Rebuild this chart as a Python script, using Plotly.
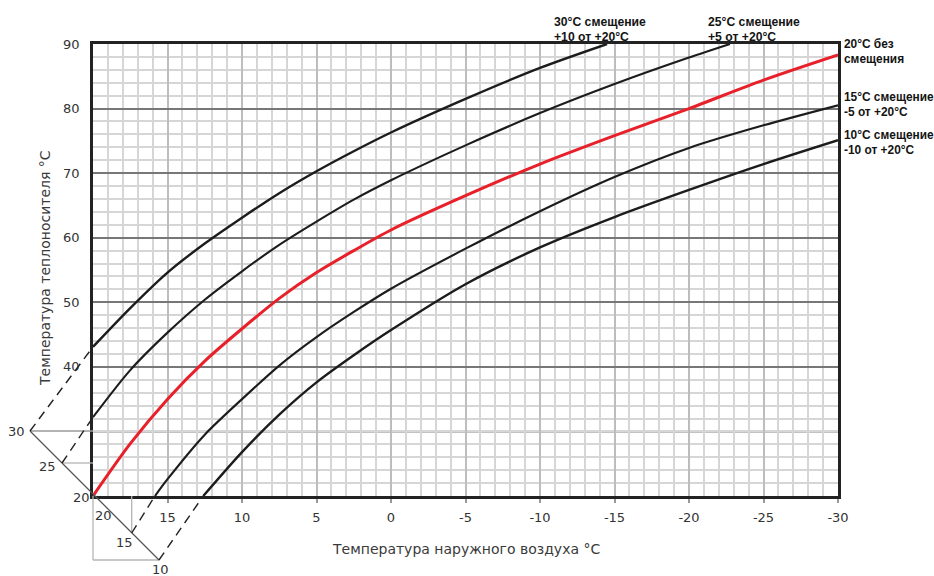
import plotly.graph_objects as go

# ---------------- data ----------------
outdoor_ticks = [15, 10, 5, 0, -5, -10, -15, -20, -25, -30]
supply_ticks = [40, 50, 60, 70, 80, 90]

x_30 = [20, 17.5, 15, 12.5, 10, 7.5, 5, 2.5, 0, -5, -10, -14.5]
y_30 = [43.1, 49.1, 54.6, 59.1, 63.1, 66.9, 70.3, 73.4, 76.3, 81.5, 86.3, 90.0]

x_25 = [20, 17.5, 15, 12.5, 10, 7.5, 5, 2.5, 0, -5, -10, -15, -20, -22.75]
y_25 = [32.2, 39.5, 45.3, 50.4, 54.8, 58.9, 62.5, 65.9, 68.9, 74.3, 79.3, 83.8, 87.9, 90.0]

x_20 = [20, 17.5, 15, 12.5, 10, 7.5, 5, 2.5, 0, -5, -10, -15, -20, -25, -30]
y_20 = [20.0, 28.1, 35.0, 40.9, 45.9, 50.6, 54.6, 58.0, 61.2, 66.5, 71.4, 75.8, 80.0, 84.4, 88.3]

x_15 = [15.84, 15, 12.5, 10, 7.5, 5, 2.5, 0, -5, -10, -15, -20, -25, -30]
y_15 = [20.0, 22.6, 29.5, 35.0, 40.2, 44.6, 48.5, 52.1, 58.3, 64.1, 69.4, 73.9, 77.4, 80.5]

x_10 = [12.6, 10, 7.5, 5, 2.5, 0, -5, -10, -15, -20, -25, -30]
y_10 = [20.0, 26.8, 32.6, 37.6, 41.8, 45.7, 52.8, 58.5, 63.2, 67.4, 71.4, 75.1]

room_labels = ["30", "25", "20", "15", "10"]

label_30 = ["30°C смещение", "+10 от +20°C"]
label_25 = ["25°C смещение", "+5 от +20°C"]
label_20 = ["20°C без", "смещения"]
label_15 = ["15°C смещение", "-5 от +20°C"]
label_10 = ["10°C смещение", "-10 от +20°C"]

# ---------------- layout geometry (page pixels) ----------------
W, H = 934, 576
PL, PR, PT, PB = 93, 838, 44, 496      # plot area in page pixels
XR = (20, -30)
YR = (20, 90)


def px2paper(px, py):
    return (px - PL) / (PR - PL), (PB - py) / (PB - PT)


def data2px(x, y):
    px = PL + (XR[0] - x) / (XR[0] - XR[1]) * (PR - PL)
    py = PB - (y - YR[0]) / (YR[1] - YR[0]) * (PB - PT)
    return px, py


BLACK = "#1c1c1c"
RED = "#e8202a"
TXT = "#333333"
FONT = "DejaVu Sans"
BFONT = "Liberation Sans"

fig = go.Figure()

for xs, ys, col, w in [(x_30, y_30, BLACK, 2.4), (x_25, y_25, BLACK, 2.1),
                       (x_15, y_15, BLACK, 2.1), (x_10, y_10, BLACK, 2.4),
                       (x_20, y_20, RED, 3.0)]:
    fig.add_trace(go.Scatter(x=xs, y=ys, mode="lines",
                             line=dict(color=col, width=w, shape="spline", smoothing=0.8),
                             showlegend=False, hoverinfo="x+y"))

shapes = []
# black major horizontal lines at 30, 50, 70
for yv in [30, 50, 70]:
    shapes.append(dict(type="line", xref="paper", yref="y", x0=0, x1=1, y0=yv, y1=yv,
                       line=dict(color="#111111", width=1.6), layer="between"))


def pline(p0, p1, color, width, dash=None):
    a = px2paper(*p0)
    b = px2paper(*p1)
    d = dict(type="line", xref="paper", yref="paper", x0=a[0], y0=a[1], x1=b[0], y1=b[1],
             line=dict(color=color, width=width), layer="above")
    if dash:
        d["line"]["dash"] = dash
    return d


# auxiliary oblique room-temperature axis
P30 = (30, 431)
P25 = (62, 463)
P20 = (PL, PB)
P15 = (131.7, 533)
P10 = (159, 560)
shapes.append(pline(P30, (PL, 431), "#9a9a9a", 1.3))
shapes.append(pline(P25, (PL, 463), "#b5b5b5", 1.3))
shapes.append(pline(P20, (PL, 560), "#b5b5b5", 1.3))
shapes.append(pline((PL, 560), P10, "#b5b5b5", 1.3))
shapes.append(pline((P15[0], PB), P15, "#b5b5b5", 1.3))
shapes.append(pline(P30, P10, "#555555", 1.3))

# dashed connectors from the oblique axis to the start of each curve
dash = "9px,6px"
shapes.append(pline(P30, data2px(x_30[0], y_30[0]), "#222222", 1.4, dash))
shapes.append(pline(P25, data2px(x_25[0], y_25[0]), "#222222", 1.4, dash))
shapes.append(pline(P15, data2px(x_15[0], y_15[0]), "#222222", 1.4, dash))
shapes.append(pline(P10, data2px(x_10[0], y_10[0]), "#222222", 1.4, dash))

annotations = []


def ann(text, px, py, xanchor="center", size=13, family=FONT, color=TXT, bold=False, angle=0):
    x, y = px2paper(px, py)
    t = f"<b>{text}</b>" if bold else text
    annotations.append(dict(text=t, x=x, y=y, xref="paper", yref="paper", xanchor=xanchor,
                            yanchor="middle", showarrow=False, textangle=angle,
                            font=dict(size=size, family=family, color=color)))


# oblique axis labels
ann(room_labels[0], 27, 431, "right")
ann(room_labels[1], 58, 466, "right")
ann(room_labels[2], 92, 498, "right")
ann(room_labels[2], 103, 515)
ann(room_labels[3], 124, 542)
ann(room_labels[4], 160, 569)

# axis titles
ann("Температура наружного воздуха °C", 466, 549, size=14, color="#3a3a3a")
ann("Температура теплоносителя °C", 45, 268, size=14, color="#3a3a3a", angle=-90)

# curve labels
for lines, px, py, sz in [(label_30, 552, 22, 12.2), (label_25, 706, 22, 12.2),
                          (label_20, 842, 44, 11.9), (label_15, 842, 97, 11.9),
                          (label_10, 842, 135, 11.9)]:
    for i, s in enumerate(lines):
        ann(s, px, py + i * 15, "left", size=sz, family=BFONT, color="#141414", bold=True)

fig.update_layout(
    width=W, height=H,
    margin=dict(l=PL, r=W - PR, t=PT, b=H - PB),
    plot_bgcolor="white", paper_bgcolor="white",
    shapes=shapes, annotations=annotations,
    showlegend=False,
    xaxis=dict(range=list(XR), tickvals=outdoor_ticks, ticktext=[str(v) for v in outdoor_ticks],
               showgrid=True, gridcolor="#bdbdbd", gridwidth=2,
               minor=dict(dtick=1, tick0=0, showgrid=True, gridcolor="#d6d6d6", gridwidth=1.5),
               showline=True, mirror=True, linecolor="#222222", linewidth=2.5,
               ticks="outside", ticklen=4, tickcolor="#999999", tickwidth=1.5,
               tickfont=dict(family=FONT, size=13, color=TXT), ticklabelstandoff=4,
               zeroline=False, fixedrange=True),
    yaxis=dict(range=list(YR), tickvals=supply_ticks, ticktext=[str(v) for v in supply_ticks],
               showgrid=True, gridcolor="#777777", gridwidth=1.6,
               minor=dict(dtick=2, tick0=0, showgrid=True, gridcolor="#d6d6d6", gridwidth=1.5),
               showline=True, mirror=True, linecolor="#222222", linewidth=2.5,
               ticks="", tickfont=dict(family=FONT, size=13, color=TXT), ticklabelstandoff=8,
               zeroline=False, fixedrange=True),
)

fig.write_html("out.html", config=dict(displayModeBar=False),
               post_script="document.body.style.margin='0';document.body.style.overflow='hidden';")
